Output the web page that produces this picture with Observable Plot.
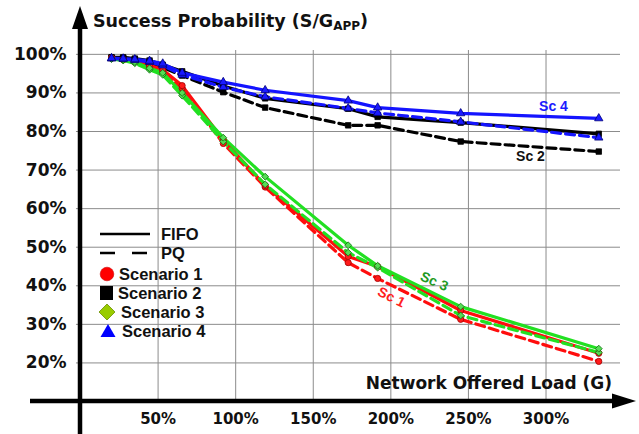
<!DOCTYPE html>
<html><head><meta charset="utf-8">
<script src="https://cdn.jsdelivr.net/npm/d3@7"></script>
<script src="https://cdn.jsdelivr.net/npm/@observablehq/plot@0.6"></script>
<style>
html,body{margin:0;padding:0;background:#fff;}
#chart svg{display:block;}
</style>
</head><body><div id="chart"></div>
<script>
// Network offered load G (%)
const loads = [20, 27.5, 35, 44.5, 53, 65.5, 92, 119, 172.5, 191.5, 245, 334];
// Success probability (%)
const s1FIFO = [99.0, 98.7, 98.2, 97.2, 96.0, 91.9, 77.8, 66.0, 47.6, 45.0, 33.6, 22.5];
const s1PQ   = [99.0, 98.6, 98.0, 96.8, 95.4, 91.2, 76.9, 65.6, 46.0, 41.9, 31.3, 20.4];
const s2FIFO = [99.2, 99.2, 98.9, 98.4, 97.3, 95.6, 91.8, 88.6, 85.9, 83.8, 82.3, 79.4];
const s2PQ   = [99.2, 99.1, 98.7, 97.9, 96.6, 94.5, 90.2, 86.2, 81.6, 81.6, 77.4, 74.8];
const s3FIFO = [98.9, 98.6, 98.0, 96.4, 95.2, 90.0, 78.4, 68.3, 50.5, 45.2, 34.6, 23.7];
const s3PQ   = [98.8, 98.4, 97.7, 96.0, 94.7, 89.3, 77.4, 66.3, 48.6, 44.7, 32.3, 22.7];
const s4FIFO = [99.0, 98.9, 98.7, 98.3, 97.6, 95.2, 92.8, 90.7, 88.0, 86.2, 84.7, 83.4];
const s4PQ   = [98.9, 98.8, 98.5, 98.0, 97.1, 94.7, 91.5, 89.0, 86.0, 84.8, 82.5, 78.4];

const xTicks = [50, 100, 150, 200, 250, 300];
const xTickLabels = ["50%", "100%", "150%", "200%", "250%", "300%"];
const yTicks = [20, 30, 40, 50, 60, 70, 80, 90, 100];
const yTickLabels = ["20%", "30%", "40%", "50%", "60%", "70%", "80%", "90%", "100%"];

const legendLines = ["FIFO", "PQ"];
const legendScenarios = ["Scenario 1", "Scenario 2", "Scenario 3", "Scenario 4"];

// annotation labels (load %, probability %)
const annLabels = ["Sc 4", "Sc 2", "Sc 3", "Sc 1"];
const annLoad = [304.8, 290, 228, 200.4];
const annProb = [86.5, 73.5, 41.1, 37.0];

const titleText = "Success Probability (S/G";
const titleSub = "APP";
const xLabelText = "Network Offered Load (G)";

// ---- styles ----
const styles = {
  s1: {color: "#ff0d0d", symbol: "circle", fill: "#ff1a1a", edge: "#a00000", text: "#ff2020"},
  s2: {color: "#000000", symbol: "square", fill: "#000000", edge: "#000000", text: "#111111"},
  s3: {color: "#22e022", symbol: "diamond2", fill: "#55dd55", edge: "#0b6e0b", text: "#1f9a1f"},
  s4: {color: "#1414ff", symbol: "triangle", fill: "#1a1aff", edge: "#00007a", text: "#1a1aff"}
};
const annStyle = ["s4", "s2", "s3", "s1"];
const annRotate = [0, 0, 24, 27];

const series = [
  {key: "s2", policy: "PQ", values: s2PQ},
  {key: "s2", policy: "FIFO", values: s2FIFO},
  {key: "s1", policy: "PQ", values: s1PQ},
  {key: "s1", policy: "FIFO", values: s1FIFO},
  {key: "s3", policy: "PQ", values: s3PQ},
  {key: "s3", policy: "FIFO", values: s3FIFO},
  {key: "s4", policy: "PQ", values: s4PQ},
  {key: "s4", policy: "FIFO", values: s4FIFO}
];
const rows = (values) => loads.map((l, i) => ({load: l, p: values[i]}));

const tickFont = "DejaVu Sans";
const marks = [
  Plot.ruleX(xTicks, {x: d => d, y1: 10, y2: 101, stroke: "#8c8c8c", strokeWidth: 1}),
  Plot.ruleY(yTicks, {y: d => d, x1: -2.6, x2: 348, stroke: "#8c8c8c", strokeWidth: 1})
];
for (const s of series) {
  const st = styles[s.key];
  const opts = {x: "load", y: "p", stroke: st.color, strokeWidth: 3.2};
  if (s.policy === "PQ") opts.strokeDasharray = "9,5";
  marks.push(Plot.line(rows(s.values), opts));
}
for (const s of series) {
  const st = styles[s.key];
  marks.push(Plot.dot(rows(s.values), {x: "load", y: "p", symbol: st.symbol, r: 3.1, fill: st.fill, stroke: st.edge, strokeWidth: 0.8}));
}
marks.push(Plot.text(yTicks, {x: () => 0, y: d => d, text: (d, i) => yTickLabels[i], textAnchor: "end", dx: -14, fontSize: 17, fontWeight: "bold", fontFamily: tickFont, fill: "#111"}));
marks.push(Plot.text(xTicks, {x: d => d, y: () => 10, text: (d, i) => xTickLabels[i], dy: 18, fontSize: 15, fontWeight: "bold", fontFamily: tickFont, fill: "#111"}));
marks.push(Plot.text(annLabels, {x: (d, i) => annLoad[i], y: (d, i) => annProb[i], text: d => d, rotate: (d, i) => annRotate[i], fill: (d, i) => styles[annStyle[i]].text, fontSize: 14, fontWeight: "bold", fontFamily: "Liberation Sans"}));

const chart = Plot.plot({
  width: 639, height: 434,
  marginLeft: 80, marginRight: 19, marginTop: 50, marginBottom: 33,
  x: {domain: [0, 348], axis: null},
  y: {domain: [10, 101], axis: null},
  style: {background: "#fff", overflow: "visible"},
  marks
});
document.getElementById("chart").append(chart);

// ---- axes with arrows, title, legend ----
const svg = d3.select(chart);
const X = chart.scale("x"), Y = chart.scale("y");
const ax = X.apply(0), ay = Y.apply(10);
const g = svg.append("g").attr("text-anchor", "start");
g.append("line").attr("x1", ax).attr("x2", ax).attr("y1", 434).attr("y2", 26).attr("stroke", "#000").attr("stroke-width", 4.5);
g.append("path").attr("d", `M${ax},6 L${ax - 8},29 L${ax + 8},29 Z`).attr("fill", "#000");
g.append("line").attr("x1", 30).attr("x2", 615).attr("y1", ay).attr("y2", ay).attr("stroke", "#000").attr("stroke-width", 4.5);
g.append("path").attr("d", `M636,${ay} L612,${ay - 7.5} L612,${ay + 7.5} Z`).attr("fill", "#000");

const title = g.append("text").attr("x", 93).attr("y", 27).attr("text-anchor", "start").attr("font-family", "DejaVu Sans").attr("font-weight", "bold").attr("font-size", 17.5).attr("fill", "#111");
title.append("tspan").text(titleText);
title.append("tspan").attr("font-size", 12).attr("dy", 3).text(titleSub);
title.append("tspan").attr("dy", -3).text(")");

g.append("text").attr("x", 612).attr("y", 389).attr("text-anchor", "end").attr("font-family", "DejaVu Sans").attr("font-weight", "bold").attr("font-size", 17).attr("fill", "#111").text(xLabelText);

// legend
const lg = svg.append("g").attr("text-anchor", "start").attr("font-family", "Liberation Sans").attr("font-weight", "bold").attr("font-size", 16.5).attr("fill", "#111");
const lineY = [234, 253];
legendLines.forEach((t, i) => {
  lg.append("line").attr("x1", 100).attr("x2", 150).attr("y1", lineY[i]).attr("y2", lineY[i]).attr("stroke", "#000").attr("stroke-width", 2.5).attr("stroke-dasharray", i === 1 ? "15,17" : null);
  lg.append("text").attr("x", 161).attr("y", lineY[i]).attr("dy", "0.36em").attr("text-anchor", "start").text(t);
});
const scenY = [274, 293, 312, 331];
const scenTextX = [119, 118, 121, 122];
// symbols
lg.append("circle").attr("cx", 107).attr("cy", scenY[0]).attr("r", 6.8).attr("fill", "#ff0000").attr("stroke", "#cc0000").attr("stroke-width", 0.6);
lg.append("rect").attr("x", 100).attr("y", scenY[1] - 7).attr("width", 13).attr("height", 14).attr("fill", "#000");
lg.append("path").attr("d", `M107,${scenY[2] - 8} L115,${scenY[2]} L107,${scenY[2] + 8} L99,${scenY[2]} Z`).attr("fill", "#99cc00").attr("stroke", "#6a8f00").attr("stroke-width", 0.8);
lg.append("path").attr("d", `M108,${scenY[3] - 7} L115.5,${scenY[3] + 6} L100.5,${scenY[3] + 6} Z`).attr("fill", "#0000ff");
legendScenarios.forEach((t, i) => {
  lg.append("text").attr("x", scenTextX[i]).attr("y", scenY[i]).attr("dy", "0.36em").attr("text-anchor", "start").text(t);
});
</script>
</body></html>
